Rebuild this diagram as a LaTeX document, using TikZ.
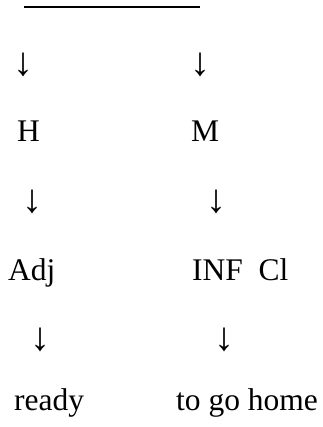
\documentclass[tikz,border=0pt]{standalone}
\usepackage{fontspec}
\setmainfont{Liberation Serif}
\begin{document}
\begin{tikzpicture}[x=1pt,y=-1pt,
  lbl/.style={anchor=base west,inner sep=0pt,font=\fontsize{31.5}{38}\selectfont},
  arr/.style={anchor=center,inner sep=0pt,font=\fontsize{40}{46}\selectfont}]
\useasboundingbox (0,0) rectangle (322,427);
\coordinate (l1) at (24,7);
\coordinate (l2) at (200,7);
\draw[line width=1.4pt] (l1) -- (l2);
\node[arr] (a1) at (23.5,65) {↓};
\node[arr] (a2) at (200,65) {↓};
\node[lbl] (H) at (17,142) {H};
\node[lbl] (M) at (191,142) {M};
\node[arr] (a3) at (32,202) {↓};
\node[arr] (a4) at (216,202) {↓};
\node[lbl] (Adj) at (8,280) {Adj};
\node[lbl] (INF) at (192,280) {INF\ \ Cl};
\node[arr] (a5) at (40,340) {↓};
\node[arr] (a6) at (224,340) {↓};
\node[lbl] (ready) at (14,410) {ready};
\node[lbl] (togo) at (176,410) {to go home};
\end{tikzpicture}
\end{document}
